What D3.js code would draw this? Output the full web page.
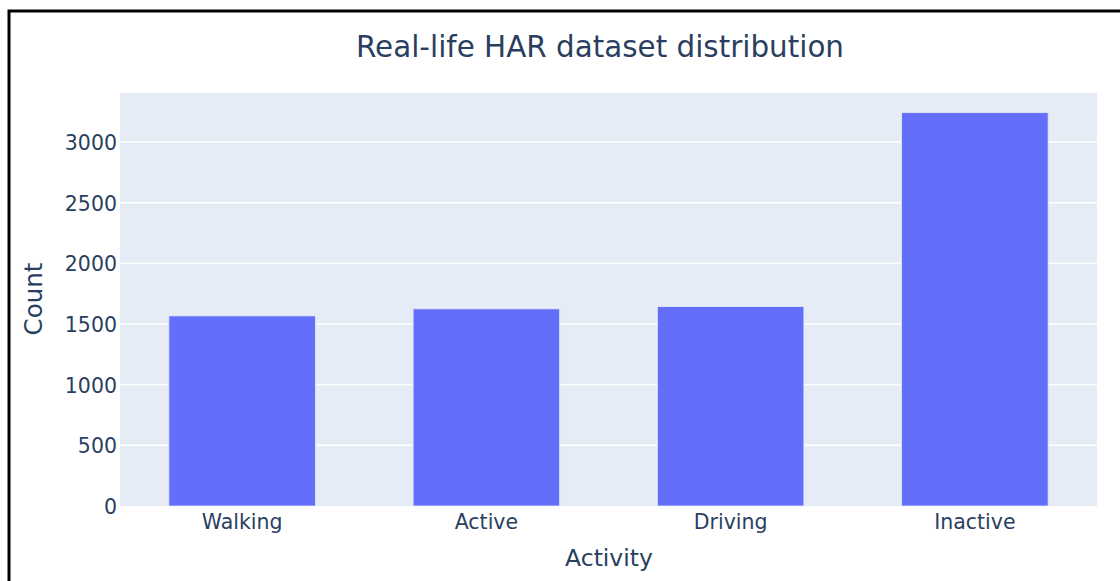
<!DOCTYPE html>
<html>
<head>
<meta charset="utf-8">
<script src="https://cdn.jsdelivr.net/npm/d3@7"></script>
<style>
  body { margin:0; background:#fff; }
  svg text { font-family: "DejaVu Sans", Verdana, sans-serif; fill:#2a3f5f; }
</style>
</head>
<body>
<div id="plot"></div>
<script>
//chart data
var activities = ['Walking', 'Active', 'Driving', 'Inactive'];
var counts = [1567, 1625, 1644, 3242];
var yTicks = [0, 500, 1000, 1500, 2000, 2500, 3000];

var W = 1120, H = 581;
//plot area edges
var margin = {t:93, r:23, b:75, l:120};
var width = W - margin.l - margin.r,
    height = H - margin.t - margin.b;

var svg = d3.select('#plot').append('svg')
    .attr('width', W)
    .attr('height', H);

//black frame on left and top
svg.append('path')
    .attr('d', 'M9,' + H + 'V11H' + W)
    .attr('fill', 'none')
    .attr('stroke', '#000')
    .attr('stroke-width', 3);

var plot = svg.append('g')
    .attr('transform', 'translate(' + margin.l + ',' + margin.t + ')');

var x = d3.scaleBand()
    .domain(activities)
    .range([0, width])
    .paddingInner(0.4)
    .paddingOuter(0.2);

var y = d3.scaleLinear()
    .domain([0, d3.max(counts) * 1.05])
    .range([height, 0]);

plot.append('rect')
    .attr('width', width)
    .attr('height', height)
    .attr('fill', '#E5ECF6');

//gridlines
plot.selectAll('.grid')
    .data(yTicks.slice(1))
    .enter()
    .append('line')
    .attr('x1', 0)
    .attr('x2', width)
    .attr('y1', function(d){ return y(d); })
    .attr('y2', function(d){ return y(d); })
    .attr('stroke', '#fff')
    .attr('stroke-width', 1.5);

//bars
plot.selectAll('.bar')
    .data(counts)
    .enter()
    .append('rect')
    .attr('x', function(d, i){ return x(activities[i]); })
    .attr('y', function(d){ return y(d); })
    .attr('width', x.bandwidth())
    .attr('height', function(d){ return height - y(d); })
    .attr('fill', '#636EFA')
    .attr('stroke', '#E5ECF6')
    .attr('stroke-width', 0.8);

//y axis, no thousands separator
var yAxis = plot.append('g')
    .call(d3.axisLeft(y).tickValues(yTicks).tickFormat(d3.format('d')).tickSize(0).tickPadding(3));
yAxis.select('.domain').remove();
yAxis.selectAll('text')
    .attr('font-size', 20.5)
    .attr('font-family', null)
    .attr('dy', '0.36em');

//x axis
var xAxis = plot.append('g')
    .attr('transform', 'translate(0,' + height + ')')
    .call(d3.axisBottom(x).tickSize(0).tickPadding(8));
xAxis.select('.domain').remove();
xAxis.selectAll('text')
    .attr('font-size', 20.5)
    .attr('font-family', null)
    .attr('dy', '0.71em');

//titles
svg.append('text')
    .attr('x', 600)
    .attr('y', 57)
    .attr('text-anchor', 'middle')
    .attr('font-size', 29.4)
    .text('Real-life HAR dataset distribution');

svg.append('text')
    .attr('x', 609)
    .attr('y', 566)
    .attr('text-anchor', 'middle')
    .attr('font-size', 23.5)
    .text('Activity');

svg.append('text')
    .attr('transform', 'translate(42,299) rotate(-90)')
    .attr('text-anchor', 'middle')
    .attr('font-size', 24.5)
    .text('Count');
</script>
</body>
</html>
